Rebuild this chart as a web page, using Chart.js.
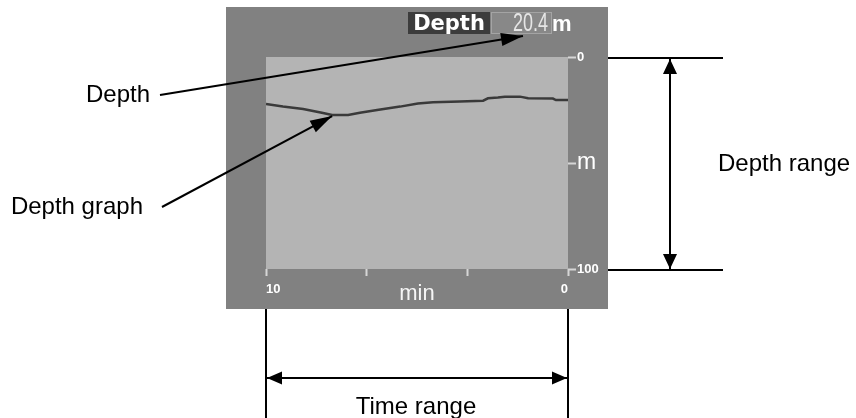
<!DOCTYPE html>
<html><head><meta charset="utf-8">
<script src="https://cdn.jsdelivr.net/npm/chart.js@4.4.1/dist/chart.umd.min.js"></script>
<style>html,body{margin:0;padding:0;background:#fff;overflow:hidden}</style>
</head><body>
<canvas id="c" width="856" height="418"></canvas>
<script>
// ---- data ----
const timeMin  = [10, 9.44, 8.77, 8.15, 7.81, 7.28, 6.89, 6.32, 5.56, 4.97, 4.47, 3.58, 2.81, 2.65, 2.32, 2.09, 1.59, 1.32, 0.5, 0.4, 0];
const depthM   = [22.2, 23.4, 24.5, 26.3, 27.4, 27.4, 26.3, 25.0, 23.4, 21.9, 21.4, 21.0, 20.6, 19.5, 19.1, 18.7, 18.7, 19.5, 19.6, 20.3, 20.3];
const xTickValues = [0, 10/3, 20/3, 10];
const xTickLabels = ['0', '', '', '10'];
const yTickValues = [0, 50, 100];
const yTickLabels = ['0', 'm', '100'];
const timeTitle = 'min';
const headerLabel = 'Depth';
const currentDepth = '20.4';
const depthUnit = 'm';
const calloutDepth = 'Depth';
const calloutGraph = 'Depth graph';
const depthRangeLabel = 'Depth range';
const timeRangeLabel = 'Time range';

const SANS = '"Liberation Sans", Arial, sans-serif';

function arrowHead(ctx, x1, y1, x2, y2, len, half) {
  const a = Math.atan2(y2 - y1, x2 - x1);
  ctx.beginPath();
  ctx.moveTo(x2, y2);
  ctx.lineTo(x2 - len * Math.cos(a) + half * Math.sin(a), y2 - len * Math.sin(a) - half * Math.cos(a));
  ctx.lineTo(x2 - len * Math.cos(a) - half * Math.sin(a), y2 - len * Math.sin(a) + half * Math.cos(a));
  ctx.closePath();
  ctx.fill();
}
function arrow(ctx, x1, y1, x2, y2, len, half, both) {
  ctx.beginPath(); ctx.moveTo(x1, y1); ctx.lineTo(x2, y2); ctx.stroke();
  arrowHead(ctx, x1, y1, x2, y2, len, half);
  if (both) arrowHead(ctx, x2, y2, x1, y1, len, half);
}
function line(ctx, x1, y1, x2, y2) {
  ctx.beginPath(); ctx.moveTo(x1, y1); ctx.lineTo(x2, y2); ctx.stroke();
}

const panel = { left: 226, top: 7, right: 608, bottom: 309 };

const decor = {
  id: 'decor',
  beforeDraw(chart) {
    const ctx = chart.ctx, ca = chart.chartArea;
    ctx.save();
    ctx.fillStyle = '#ffffff';
    ctx.fillRect(0, 0, chart.width, chart.height);
    ctx.fillStyle = '#818181';
    ctx.fillRect(panel.left, panel.top, panel.right - panel.left, panel.bottom - panel.top);
    ctx.fillStyle = '#b4b4b4';
    ctx.fillRect(ca.left, ca.top, ca.right - ca.left, ca.bottom - ca.top);

    // header: Depth  20.4 m
    ctx.fillStyle = '#3c3c3c';
    ctx.fillRect(408, 12, 82, 22);
    ctx.fillStyle = '#888888';
    ctx.fillRect(491, 12, 61, 22);
    ctx.strokeStyle = '#a4a4a4';
    ctx.lineWidth = 1;
    ctx.strokeRect(491.5, 12.5, 60, 21);
    ctx.fillStyle = '#ffffff';
    ctx.font = '600 21px "DejaVu Sans", sans-serif';
    ctx.textBaseline = 'alphabetic';
    ctx.textAlign = 'center';
    ctx.fillText(headerLabel, 449, 30);
    ctx.save();
    ctx.translate(548, 31);
    ctx.scale(0.72, 1);
    ctx.fillStyle = '#e6e6e6';
    ctx.textAlign = 'right';
    ctx.font = '25px ' + SANS;
    ctx.fillText(currentDepth, 0, 0);
    ctx.restore();
    ctx.fillStyle = '#ffffff';
    ctx.textAlign = 'left';
    ctx.font = 'bold 22px ' + SANS;
    ctx.fillText(depthUnit, 552, 31);
    ctx.restore();
  },
  afterDraw(chart) {
    const ctx = chart.ctx;
    const xs = chart.scales.x, ys = chart.scales.y;
    ctx.save();
    ctx.strokeStyle = '#000';
    ctx.fillStyle = '#000';
    ctx.lineWidth = 2;

    // depth range
    const yTop = ys.getPixelForValue(0), yBot = ys.getPixelForValue(100);
    line(ctx, panel.right, yTop + 1, 723, yTop + 1);
    line(ctx, panel.right, yBot + 1, 723, yBot + 1);
    arrow(ctx, 670, yTop + 2, 670, yBot, 15, 7, true);

    // time range
    const xL = xs.getPixelForValue(10), xR = xs.getPixelForValue(0);
    line(ctx, xL, panel.bottom, xL, 418);
    line(ctx, xR, panel.bottom, xR, 418);
    arrow(ctx, xL + 1, 378, xR - 1, 378, 15, 6.5, true);

    // callouts
    arrow(ctx, 160, 95, 523, 36, 22, 6.5, false);
    const minIdx = depthM.indexOf(Math.max(...depthM));
    const px = xs.getPixelForValue(timeMin[minIdx]), py = ys.getPixelForValue(depthM[minIdx]);
    arrow(ctx, 162, 207, px, py + 1, 22, 6.5, false);

    ctx.font = '24px ' + SANS;
    ctx.textBaseline = 'alphabetic';
    ctx.textAlign = 'right';
    ctx.fillText(calloutDepth, 150, 102);
    ctx.fillText(calloutGraph, 143, 214);
    ctx.textAlign = 'left';
    ctx.fillText(depthRangeLabel, 718, 171);
    ctx.textAlign = 'center';
    ctx.fillText(timeRangeLabel, 416, 414);
    ctx.restore();
  }
};

new Chart(document.getElementById('c'), {
  type: 'line',
  data: {
    datasets: [{
      data: timeMin.map((t, i) => ({ x: t, y: depthM[i] })),
      borderColor: '#3a3a3a',
      borderWidth: 2.5,
      pointRadius: 0,
      tension: 0,
      fill: false
    }]
  },
  options: {
    responsive: false,
    devicePixelRatio: 1,
    animation: false,
    events: [],
    layout: { padding: { left: 266, right: 248, top: 57, bottom: 109 } },
    plugins: { legend: { display: false }, tooltip: { enabled: false }, title: { display: false } },
    scales: {
      x: {
        type: 'linear', position: 'bottom', min: 0, max: 10, reverse: true,
        afterBuildTicks: s => { s.ticks = xTickValues.map(v => ({ value: v })); },
        afterFit: s => { s.height = 40; },
        border: { display: false },
        grid: { drawOnChartArea: false, drawTicks: true, tickLength: 7, tickColor: '#d6d6d6', tickWidth: 2 },
        ticks: {
          autoSkip: false, maxRotation: 0, align: 'inner', padding: 6, color: '#ffffff',
          font: { family: SANS, size: 13, weight: 'bold' },
          callback: (v, i) => xTickLabels[i]
        },
        title: { display: true, text: timeTitle, color: '#f6f6f6', font: { family: SANS, size: 22 }, padding: { top: 0, bottom: 2 } }
      },
      y: {
        type: 'linear', position: 'right', min: 0, max: 100, reverse: true,
        afterBuildTicks: s => { s.ticks = yTickValues.map(v => ({ value: v })); },
        afterFit: s => { s.width = 40; },
        border: { display: false },
        grid: { drawOnChartArea: false, drawTicks: true, tickLength: 8, tickColor: '#d6d6d6', tickWidth: 2 },
        ticks: {
          autoSkip: false, padding: 1, color: '#ffffff',
          font: ctx => (ctx.tick && ctx.tick.value === 50)
            ? { family: SANS, size: 23 }
            : { family: SANS, size: 13, weight: 'bold' },
          callback: (v, i) => yTickLabels[i]
        }
      }
    }
  },
  plugins: [decor]
});
</script>
</body></html>
